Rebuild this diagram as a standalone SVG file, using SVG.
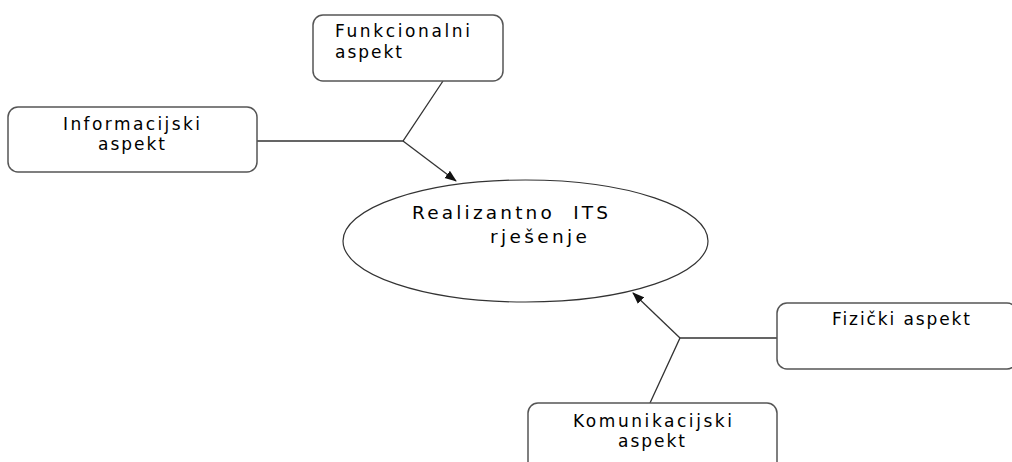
<svg xmlns="http://www.w3.org/2000/svg" width="1012" height="462" viewBox="0 0 1012 462">
<style>
.box{fill:#fff;stroke:#555;stroke-width:1.5}
.ell{fill:#fff;stroke:#333;stroke-width:1.2}
.t{font-family:"DejaVu Sans","Liberation Sans",sans-serif;font-size:17px;fill:#000}
.tb{font-family:"DejaVu Sans","Liberation Sans",sans-serif;font-size:18.5px;fill:#000}
.ln{fill:none;stroke:#333;stroke-width:1.3}
</style>
<defs>
<marker id="ah" viewBox="0 0 12 10" refX="11" refY="5" markerWidth="12" markerHeight="10" markerUnits="userSpaceOnUse" orient="auto">
<path d="M0,0.5 L12,5 L0,9.5 z" fill="#111"/>
</marker>
</defs>
<g id="connectors">
<polyline class="ln" points="257,141 403,141 443,81"/>
<line class="ln" x1="403" y1="141" x2="456" y2="181" marker-end="url(#ah)"/>
<polyline class="ln" points="777,338 680,338 650,403"/>
<line class="ln" x1="680" y1="338" x2="633" y2="293" marker-end="url(#ah)"/>
</g>
<g id="realizantno">
<ellipse class="ell" cx="525.5" cy="241" rx="182.5" ry="61"/>
<text class="tb" x="412" y="219" textLength="196" xml:space="preserve">Realizantno  ITS</text>
<text class="tb" x="490" y="243" textLength="97">rješenje</text>
</g>
<g id="funkcionalni">
<rect class="box" x="313" y="15" width="190" height="66" rx="10"/>
<text class="t" x="335" y="37" textLength="135">Funkcionalni</text>
<text class="t" x="335" y="58" textLength="67">aspekt</text>
</g>
<g id="informacijski">
<rect class="box" x="8" y="107" width="249" height="65" rx="10"/>
<text class="t" x="63" y="130" textLength="137">Informacijski</text>
<text class="t" x="98" y="150" textLength="67">aspekt</text>
</g>
<g id="fizicki">
<rect class="box" x="777" y="303" width="240" height="66" rx="10"/>
<text class="t" x="832" y="325" textLength="138">Fizički aspekt</text>
</g>
<g id="komunikacijski">
<rect class="box" x="528" y="403" width="249" height="80" rx="10"/>
<text class="t" x="573" y="427" textLength="159">Komunikacijski</text>
<text class="t" x="618" y="447" textLength="67">aspekt</text>
</g>
</svg>
